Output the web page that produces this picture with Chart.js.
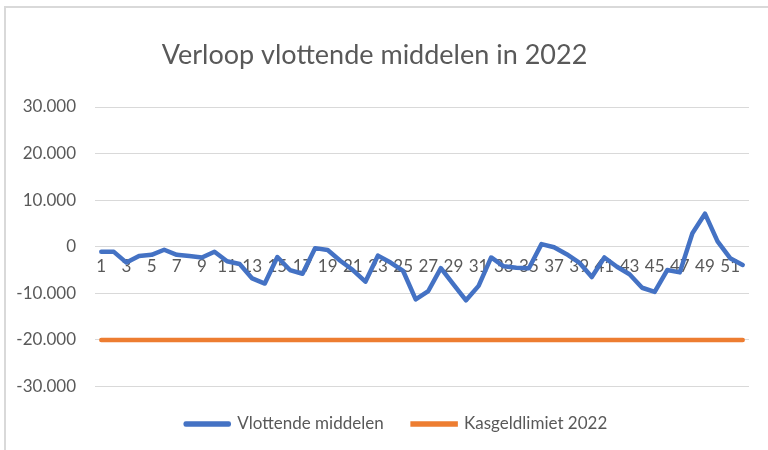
<!DOCTYPE html>
<html>
<head>
<meta charset="utf-8">
<script src="https://cdn.jsdelivr.net/npm/chart.js@4"></script>
<style>
  html, body { margin: 0; padding: 0; background: #fff; }
  #wrap { width: 768px; height: 450px; }
</style>
</head>
<body>
<div id="wrap"><canvas id="myChart" width="768" height="450"></canvas></div>
<script>
// weeknummers
const weken = [1, 2, 3, 4, 5, 6, 7, 8, 9, 10, 11, 12, 13, 14, 15, 16, 17, 18, 19, 20,
  21, 22, 23, 24, 25, 26, 27, 28, 29, 30, 31, 32, 33, 34, 35, 36, 37, 38, 39, 40,
  41, 42, 43, 44, 45, 46, 47, 48, 49, 50, 51, 52];

const vlottendeMiddelen = [-1080, -1100, -3400, -2000, -1730, -650, -1730, -2000, -2300, -1080,
  -3100, -3700, -6800, -7900, -2200, -5000, -5800, -300, -700, -3000,
  -5000, -7500, -1900, -3400, -5200, -11300, -9500, -4600, -8100, -11500,
  -8400, -2300, -4200, -4500, -4600, 570, -100, -1600, -3400, -6500,
  -2300, -4300, -5900, -8800, -9700, -5000, -5500, 2900, 7100, 1150,
  -2450, -3900];

const kasgeldlimiet = [-20000, -20000, -20000, -20000, -20000, -20000, -20000, -20000, -20000, -20000,
  -20000, -20000, -20000, -20000, -20000, -20000, -20000, -20000, -20000, -20000,
  -20000, -20000, -20000, -20000, -20000, -20000, -20000, -20000, -20000, -20000,
  -20000, -20000, -20000, -20000, -20000, -20000, -20000, -20000, -20000, -20000,
  -20000, -20000, -20000, -20000, -20000, -20000, -20000, -20000, -20000, -20000,
  -20000, -20000];

const yTicks = [-30000, -20000, -10000, 0, 10000, 20000, 30000];

const grijs = '#595959';
const fontNaam = 'Lato, "Noto Sans", sans-serif';

// 30000 -> 30.000
function formatNL(v) {
    const neg = v < 0;
    const s = String(Math.abs(v)).replace(/\B(?=(\d{3})+(?!\d))/g, '.');
    return (neg ? '-' : '') + s;
}

// lichte rand links en boven, zoals in Excel
const randPlugin = {
    id: 'rand',
    afterLayout(chart) {
        // legenda staat in Excel iets rechts van het midden
        chart.legend.left += 22;
        chart.legend.right += 22;
    },
    afterDraw(chart) {
        const ctx = chart.ctx;
        ctx.save();
        ctx.strokeStyle = '#d9d9d9';
        ctx.lineWidth = 2;
        ctx.beginPath();
        ctx.moveTo(5, 450);
        ctx.lineTo(5, 7);
        ctx.lineTo(768, 7);
        ctx.stroke();
        ctx.restore();
    }
};

const ctx = document.getElementById('myChart').getContext('2d');
new Chart(ctx, {
    type: 'line',
    data: {
        labels: weken,
        datasets: [{
            label: 'Vlottende middelen',
            data: vlottendeMiddelen,
            borderColor: '#4472C4',
            backgroundColor: '#4472C4',
            borderWidth: 4.5,
            pointRadius: 0,
            borderJoinStyle: 'round',
            borderCapStyle: 'round',
            tension: 0
        }, {
            label: 'Kasgeldlimiet 2022',
            data: kasgeldlimiet,
            borderColor: '#ED7D31',
            backgroundColor: '#ED7D31',
            borderWidth: 4.5,
            pointRadius: 0,
            borderCapStyle: 'round',
            tension: 0
        }]
    },
    options: {
        responsive: false,
        animation: false,
        layout: {
            padding: { left: 0, right: 19, top: 0, bottom: 7.5 }
        },
        plugins: {
            title: {
                display: true,
                text: 'Verloop vlottende middelen in 2022',
                color: grijs,
                font: { family: fontNaam, size: 27, weight: 'normal' },
                padding: { top: 38.8, bottom: 35.8 }
            },
            legend: {
                position: 'bottom',
                labels: {
                    color: grijs,
                    font: { family: fontNaam, size: 17 },
                    boxWidth: 43,
                    boxHeight: 1,
                    padding: 29
                }
            },
            tooltip: { enabled: false }
        },
        scales: {
            x: {
                position: { y: 0 },
                offset: true,
                grid: { display: false, drawTicks: false },
                border: { display: false },
                ticks: {
                    color: grijs,
                    font: { family: fontNaam, size: 17 },
                    autoSkip: false,
                    maxRotation: 0,
                    padding: 10,
                    callback: function(value, index) {
                        return index % 2 === 0 ? this.getLabelForValue(value) : '';
                    }
                }
            },
            y: {
                min: -30000,
                max: 30000,
                afterFit: function(scale) { scale.width = 95; },
                afterBuildTicks: function(scale) {
                    scale.ticks = yTicks.map(v => ({ value: v }));
                },
                grid: { color: '#d9d9d9', lineWidth: 1, drawTicks: false },
                border: { display: false },
                ticks: {
                    color: grijs,
                    font: { family: fontNaam, size: 17 },
                    padding: 19,
                    callback: function(value) { return formatNL(value); }
                }
            }
        }
    },
    plugins: [randPlugin]
});
</script>
</body>
</html>
